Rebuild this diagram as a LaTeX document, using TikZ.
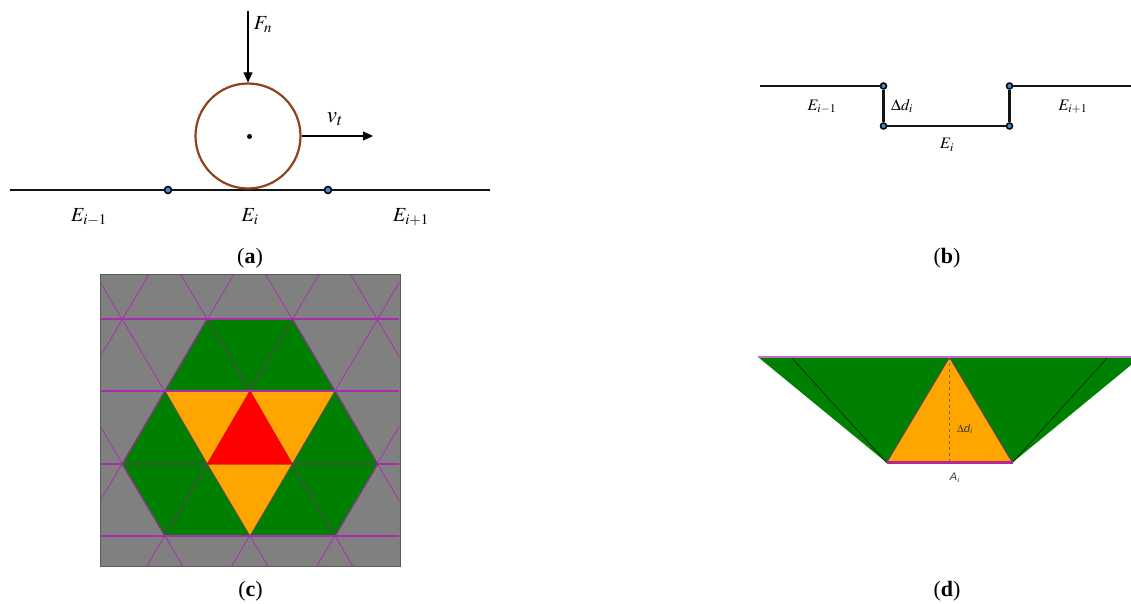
\documentclass[tikz,border=0pt]{standalone}
\usepackage{amsmath,amssymb}
\usepackage{mathptmx}
\usepackage{fontspec}
\setmainfont{Liberation Serif}
\usetikzlibrary{arrows.meta,positioning,calc}
\definecolor{wheelbrown}{RGB}{139,69,25}
\definecolor{dotblue}{RGB}{70,135,205}
\definecolor{meshgray}{RGB}{128,128,128}
\definecolor{meshline}{RGB}{170,45,175}
\definecolor{edgegray}{RGB}{72,78,72}
\definecolor{patchgreen}{RGB}{0,128,0}
\definecolor{patchorange}{RGB}{255,165,0}
\definecolor{patchred}{RGB}{255,0,0}
\tikzset{
  trackline/.style={line width=2.4pt, black!92},
  forcearrow/.style={line width=1.1pt, -{Triangle[length=10pt,width=9pt]}},
  nodedot/.style={circle, draw=black, fill=dotblue, line width=1.5pt, inner sep=0pt, minimum size=7pt},
  bigmath/.style={inner sep=0pt, font=\fontsize{20}{20}\selectfont},
  midmath/.style={inner sep=0pt, font=\fontsize{16}{16}\selectfont},
  smalllabel/.style={inner sep=0pt, text=black!80, font=\fontsize{11}{11}\selectfont\fontspec{Liberation Sans}\itshape},
  caption/.style={inner sep=0pt, font=\fontsize{22}{22}\selectfont},
  meshedge/.style={line width=0.75pt, meshline},
  green tri/.style={fill=patchgreen, draw=edgegray, line width=1.2pt, line join=round},
  orange tri/.style={fill=patchorange, draw=edgegray, line width=0.7pt, line join=round},
  red tri/.style={fill=patchred, draw=patchred, line width=0.5pt, line join=round},
}
\newcommand{\EE}[1]{$E_{#1}$}
\begin{document}
\begin{tikzpicture}[x=1pt, y=-1pt]
  \useasboundingbox (0,0) rectangle (1131,604);

  % (a) wheel on the track
  \coordinate (trackL) at (10,190);
  \coordinate (trackR) at (490,190);
  \coordinate (forceTop) at (248,11);
  \coordinate (speedEnd) at (373,136);
  \draw[trackline] (trackL) -- (trackR);
  \node[circle, draw=wheelbrown, line width=2.2pt, inner sep=0pt, minimum size=105pt] (wheel) at (248,136) {};
  \node[circle, fill=black, inner sep=0pt, minimum size=5pt] (hub) at (249.5,136.5) {};
  \draw[forcearrow] (forceTop) -- (wheel.north);
  \draw[forcearrow] (wheel.east) -- (speedEnd);
  \node[nodedot] (jointA) at (168,190) {};
  \node[nodedot] (jointB) at (328,190) {};
  \node[bigmath] (labelFn) at (263,25) {$F_n$};
  \node[bigmath, font=\fontsize{23}{23}\selectfont] (labelVt) at (335,119) {$v_t$};
  \node[bigmath] (labelA1) at (89,217) {\EE{i-1}};
  \node[bigmath] (labelA2) at (250,217) {\EE{i}};
  \node[bigmath] (labelA3) at (411,217) {\EE{i+1}};
  \node[caption] (capA) at (250,258) {(\textbf{a})};

  % (b) step in the track
  \coordinate (stepL) at (760,86);
  \coordinate (stepR) at (1131,86);
  \node[nodedot, minimum size=6pt] (stepA) at (883.5,86) {};
  \node[nodedot, minimum size=6pt] (stepB) at (883.5,126) {};
  \node[nodedot, minimum size=6pt] (stepC) at (1009.5,126) {};
  \node[nodedot, minimum size=6pt] (stepD) at (1009.5,86) {};
  \draw[trackline] (stepL) -- (stepA) -- (stepB) -- (stepC) -- (stepD) -- (stepR);
  \node[midmath] (labelB1) at (822,107) {\EE{i-1}};
  \node[midmath] (labelB2) at (902,106) {$\Delta d_i$};
  \node[midmath] (labelB3) at (947,145) {\EE{i}};
  \node[midmath] (labelB4) at (1073,107) {\EE{i+1}};
  \node[caption] (capB) at (947,258) {(\textbf{b})};

  % (c) triangle mesh seen from above
  \fill[meshgray] (100,274.5) rectangle (400,566.5);
  \begin{scope}
    \clip (100,274.5) rectangle (399,566.5);
    \foreach \yy in {319,391,464,536}
      \draw[meshedge, line width=1.2pt] (100,\yy) -- (400,\yy);
    \foreach \k in {-4,...,4} {
      \draw[meshedge] ({122.3+85*\k-42.5*1.0},247.5) -- ++(255,432);
      \draw[meshedge] ({122.3+85*\k+42.5*5.0},247.5) -- ++(-255,432);
    }
  \end{scope}
  \draw[edgegray!70!meshgray, line width=0.5pt] (100,274.5) rectangle (400,566.5);
  \foreach \name/\x/\y in {p1/207.3/319, p2/292.3/319, q1/165/391, q2/250/391, q3/335/391,
      r1/122.3/464, r2/207.3/464, r3/292.3/464, r4/377.7/464, s1/165/536, s2/250/536, s3/335/536}
    \coordinate (\name) at (\x,\y);
  \foreach \a/\b/\c in {p1/p2/q2, p1/q1/q2, p2/q2/q3, q1/r1/r2, q3/r3/r4, r1/r2/s1, r2/s1/s2, r3/s2/s3, r3/r4/s3}
    \draw[green tri] (\a) -- (\b) -- (\c) -- cycle;
  \foreach \a/\b/\c in {q1/q2/r2, q2/q3/r3, r2/r3/s2}
    \draw[orange tri] (\a) -- (\b) -- (\c) -- cycle;
  \draw[red tri] (q2) -- (r2) -- (r3) -- cycle;
  \draw[meshline!70!edgegray, line width=0.9pt] (r1) -- (q1) (q3) -- (r4) (p1) -- (q1) (p2) -- (q3) (r1) -- (s1) (r4) -- (s3);
  \draw[meshedge, line width=1.2pt] (p1) -- (p2) (q1) -- (q3) (s1) -- (s3);
  \node[caption] (capC) at (250.5,591) {(\textbf{c})};

  % (d) section of the worn patch
  \coordinate (topL) at (758,357);
  \coordinate (botL) at (886.5,462.5);
  \coordinate (botR) at (1012.5,462.5);
  \coordinate (edgeR) at (1131,365);
  \coordinate (topR) at (1131,357);
  \coordinate (apex) at (949.5,357);
  \coordinate (foot) at (949.5,462.5);
  \coordinate (innerL) at (791,357);
  \coordinate (innerR) at (1108,357);
  \fill[patchgreen] (topL) -- (botL) -- (botR) -- (edgeR) -- (topR) -- cycle;
  \draw[black!65!patchgreen, line width=0.7pt] (innerL) -- (botL) (innerR) -- (botR);
  \draw[orange tri, line width=1.2pt] (apex) -- (botL) -- (botR) -- cycle;
  \draw[black!60, dashed, line width=0.5pt] (apex) -- (foot);
  \draw[meshline!70, line width=1.2pt] (topL) -- (topR);
  \draw[meshline!85!red, line width=2.4pt] (botL) -- (botR);
  \node[smalllabel] (labelD1) at (965,429) {$\Delta$\textit{d}$_i$};
  \node[smalllabel] (labelD2) at (955,477.5) {\textit{A}$_i$};
  \node[caption] (capD) at (947,591) {(\textbf{d})};
\end{tikzpicture}
\end{document}
